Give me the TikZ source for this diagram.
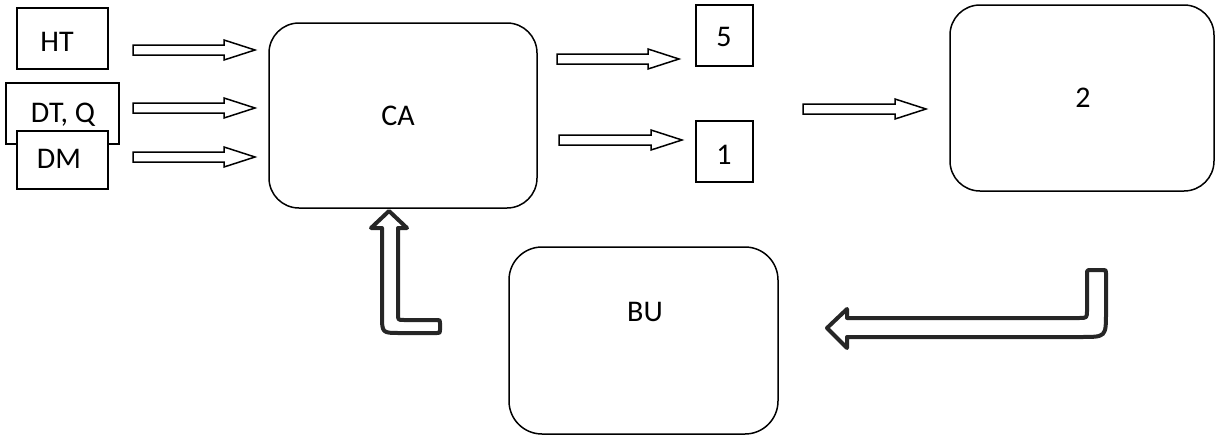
\documentclass[tikz,border=0pt]{standalone}
\usepackage{fontspec}
\setmainfont{Carlito}
\tikzset{
  box/.style={draw=black, line width=1.5pt, fill=white, inner sep=0pt},
  rbox/.style={box, rounded corners=30pt},
  lbl/.style={inner sep=0pt, text height=19pt, text depth=0pt, font=\fontsize{30}{36}\selectfont},
  barrow/.style={draw=black, line width=1.5pt, line join=miter, fill=white},
  bent/.style={draw=black!85, line width=4pt, line join=round, fill=white}
}
\newcommand\blockarrow[3]{%
  \draw[barrow] (#1,#3-5) -- (#2-31,#3-5) -- (#2-31,#3-10) -- (#2,#3) -- (#2-31,#3+10) -- (#2-31,#3+5) -- (#1,#3+5) -- cycle;}
\begin{document}
\begin{tikzpicture}[x=1pt,y=-1pt]
\useasboundingbox (0,0) rectangle (1219,439);
% left input boxes
\node[box, minimum width=91pt, minimum height=61pt] (ht) at (62.5,38.5) {};
\node[lbl] (httext) at (57,42) {HT};
\node[box, minimum width=113pt, minimum height=61pt] (dtq) at (62.5,113.5) {};
\node[lbl] (dtqtext) at (63,113) {DT, Q};
\node[box, minimum width=91pt, minimum height=58pt] (dm) at (62.5,160) {};
\node[lbl] (dmtext) at (59,159) {DM};
% main boxes
\node[rbox, minimum width=268pt, minimum height=185pt] (ca) at (403,115.5) {};
\node[lbl] (catext) at (398,116) {CA};
\node[box, minimum width=57pt, minimum height=61pt] (five) at (724.5,35.5) {};
\node[lbl] (fivetext) at (724,37) {5};
\node[box, minimum width=57pt, minimum height=61pt] (one) at (724.5,151.5) {};
\node[lbl] (onetext) at (724,155) {1};
\node[rbox, minimum width=264pt, minimum height=186pt] (two) at (1082,98) {};
\node[lbl] (twotext) at (1083,98) {2};
\node[rbox, minimum width=269pt, minimum height=187pt, rounded corners=33pt] (bu) at (643.5,340.5) {};
\node[lbl] (butext) at (645,312) {BU};
% straight block arrows
\blockarrow{133}{255}{50}
\blockarrow{133}{255}{108}
\blockarrow{133}{255}{157}
\blockarrow{557}{679}{59}
\blockarrow{559}{682}{140}
\blockarrow{803}{926}{109}
% bent arrow up into CA
\draw[bent] (389,211) -- (407,228) -- (398,228) -- (398,314) .. controls (398,320) .. (404,320)
  -- (437,320) .. controls (440,320) .. (440,323) -- (440,330) .. controls (440,333) .. (437,333)
  -- (400,333) .. controls (382,333) .. (382,315) -- (382,228) -- (371,228) -- cycle;
% bent arrow left towards BU
\draw[bent] (827,328) -- (847,309) -- (847,318) -- (1079,318) .. controls (1087,318) .. (1087,310)
  -- (1087,273) .. controls (1087,270) .. (1090,270) -- (1103,270) .. controls (1106,270) .. (1106,273)
  -- (1106,312) .. controls (1106,337) .. (1081,337) -- (847,337) -- (847,348) -- cycle;
\end{tikzpicture}
\end{document}
